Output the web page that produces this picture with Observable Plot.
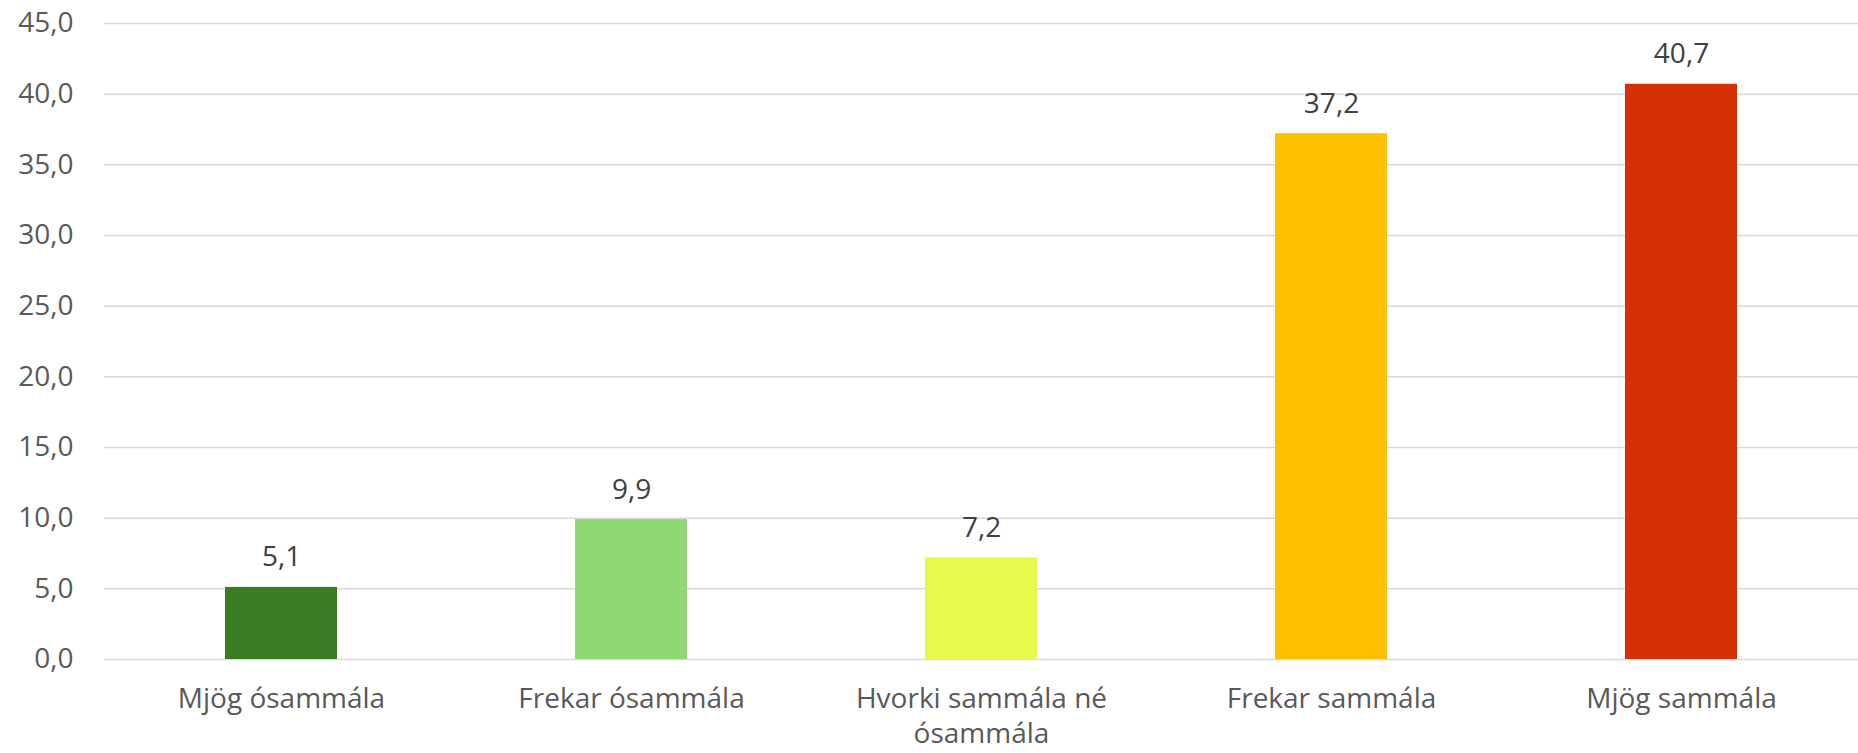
<!DOCTYPE html>
<html>
<head>
<meta charset="utf-8">
<script src="https://cdn.jsdelivr.net/npm/d3@7"></script>
<script src="https://cdn.jsdelivr.net/npm/@observablehq/plot@0.6"></script>
<style>
  html, body { margin: 0; padding: 0; background: #fff; }
  #chart svg { display: block; }
</style>
</head>
<body>
<div id="chart"></div>
<script>
const categories = ["Mjög ósammála", "Frekar ósammála", "Hvorki sammála né ósammála", "Frekar sammála", "Mjög sammála"];
const tickLabels = ["Mjög ósammála", "Frekar ósammála", "Hvorki sammála né\nósammála", "Frekar sammála", "Mjög sammála"];
const values = [5.1, 9.9, 7.2, 37.2, 40.7];
const colors = ["#3A7D22", "#8ED973", "#E6F94C", "#FFC000", "#D63105"];
const yTicks = [0, 5, 10, 15, 20, 25, 30, 35, 40, 45];

const data = categories.map((c, i) => ({category: c, value: values[i]}));
const comma = v => v.toFixed(1).replace(".", ",");

const chart = Plot.plot({
  width: 1858,
  height: 753,
  marginLeft: 104,
  marginRight: 0,
  marginTop: 23,
  marginBottom: 94,
  style: {fontFamily: "'Open Sans', sans-serif", fontSize: "28px", background: "#fff"},
  x: {domain: categories, paddingInner: 0.68, paddingOuter: 0.34, label: null},
  y: {domain: [0, 45], label: null},
  color: {domain: categories, range: colors},
  marks: [
    Plot.gridY(yTicks, {stroke: "#D9D9D9", strokeOpacity: 1, strokeWidth: 1.5}),
    Plot.barY(data, {x: "category", y: "value", fill: "category"}),
    Plot.text(data, {x: "category", y: "value", text: d => comma(d.value), dy: -30, fill: "#404040", fontSize: 28, letterSpacing: "0.5px"}),
    Plot.axisY({ticks: yTicks, tickSize: 0, tickPadding: 31, tickFormat: comma, fill: "#595959", fontSize: 28, letterSpacing: "0.5px", label: null}),
    Plot.axisX({tickSize: 0, tickPadding: 23, tickFormat: d => tickLabels[categories.indexOf(d)], fill: "#595959", fontSize: 28, lineHeight: 1.26, letterSpacing: "0.5px", label: null})
  ]
});
document.getElementById("chart").appendChild(chart);
</script>
</body>
</html>
